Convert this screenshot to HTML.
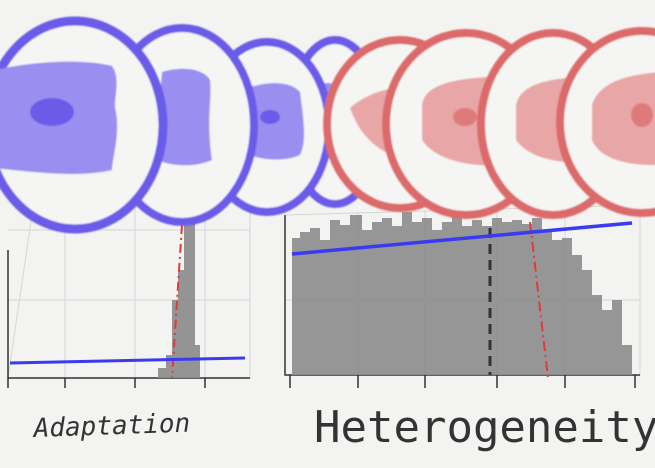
<!DOCTYPE html>
<html><head><meta charset="utf-8"><style>
html,body{margin:0;padding:0;background:#f3f3f1;}
svg{display:block}
</style></head><body>
<svg width="655" height="468" viewBox="0 0 655 468" xmlns="http://www.w3.org/2000/svg">
<defs>
<filter id="b" x="-20%" y="-20%" width="140%" height="140%"><feGaussianBlur stdDeviation="0.7"/></filter>
</defs>
<rect width="655" height="468" fill="#f3f3f1"/>
<g stroke="#d6d6d6" stroke-width="1" fill="none">
<path d="M40 160 L250 150 L250 378 L8 378 Z"/>
<path d="M65 160 V378 M135 156 V378 M205 152 V378"/>
<path d="M8 300 H250 M8 230 H250"/>
<path d="M285 215 L640 205 L640 375 M285 215 V375"/>
<path d="M358 212 V375 M425 210 V375 M497 208 V375 M565 206 V375"/>
<path d="M285 300 H640"/>
</g>
<g stroke="#333" stroke-width="1.5" fill="none">
<path d="M8 250 L8 378 L250 378"/>
<path d="M8 378 V388 M65 378 V388 M135 378 V388 M205 378 V388"/>
<path d="M285 215 V375 H640"/>
<path d="M290 375 V388 M358 375 V388 M425 375 V388 M497 375 V388 M565 375 V388 M635 375 V388"/>
</g>
<g fill="#8a8a8a" opacity="0.9">
<rect x="158" y="368" width="8" height="10"/>
<rect x="166" y="355" width="6" height="23"/>
<rect x="172" y="300" width="6" height="78"/>
<rect x="178" y="270" width="6" height="108"/>
<rect x="184" y="225" width="6" height="153"/>
<rect x="190" y="200" width="5" height="178"/>
<rect x="195" y="345" width="5" height="33"/>
</g>
<path d="M182 225 L172 378" stroke="#e23a3a" stroke-width="2" stroke-dasharray="9,4,2,4"/>
<path d="M10 363 L245 358" stroke="#3a3aee" stroke-width="3"/>
<g fill="#8c8c8c" opacity="0.9">
<path d="M292 375 V238 H300 V232 H310 V228 H320 V240 H330 V220 H340 V225 H350 V215 H362 V230 H372 V222 H382 V218 H392 V226 H402 V212 H412 V222 H422 V218 H432 V230 H442 V222 H452 V216 H462 V226 H472 V220 H482 V226 H492 V218 H502 V222 H512 V220 H522 V224 H532 V218 H542 V232 H552 V240 H562 V238 H572 V255 H582 V270 H592 V295 H602 V310 H612 V300 H622 V345 H632 V375 Z"/>
</g>
<path d="M490 228 V375" stroke="#333" stroke-width="3" stroke-dasharray="10,6"/>
<path d="M530 222 L548 378" stroke="#e23a3a" stroke-width="2" stroke-dasharray="10,4,2,4"/>
<path d="M292 254 L632 223" stroke="#3a3aee" stroke-width="3.5"/>
<g filter="url(#b)">
<!-- blue4 -->
<ellipse cx="335" cy="122" rx="45" ry="82" fill="#f5f5f4" stroke="#6b5ce8" stroke-width="8"/>
<path d="M318 85 C330 80 340 85 342 95 L342 155 C330 160 320 155 318 150Z" fill="#9a8ef0"/>
<!-- blue3 -->
<ellipse cx="267" cy="127" rx="62" ry="85" fill="#f5f5f4" stroke="#6b5ce8" stroke-width="8"/>
<path d="M248 88 C270 80 292 82 300 92 C302 110 308 140 300 155 C285 162 262 160 250 155 C244 130 250 110 248 88Z" fill="#9a8ef0"/>
<ellipse cx="270" cy="117" rx="10" ry="7" fill="#6b5ce8"/>
<!-- blue2 -->
<ellipse cx="182" cy="125" rx="72" ry="97" fill="#f5f5f4" stroke="#6b5ce8" stroke-width="8"/>
<path d="M162 72 C185 65 205 70 210 80 C212 100 206 120 212 160 C195 168 170 166 158 160 C155 130 160 100 162 72Z" fill="#9a8ef0"/>
<!-- blue1 -->
<ellipse cx="75" cy="125" rx="88" ry="104" fill="#f5f5f4" stroke="#6b5ce8" stroke-width="9"/>
<path d="M-5 70 C30 62 80 58 112 66 C122 80 112 100 116 112 C120 135 112 160 112 170 C80 178 30 172 -5 168Z" fill="#9a8ef0"/>
<ellipse cx="52" cy="112" rx="22" ry="14" fill="#6b5ce8"/>
<!-- red1 -->
<ellipse cx="400" cy="124" rx="73" ry="84" fill="#f5f5f4" stroke="#dc6b6b" stroke-width="8"/>
<path d="M350 108 C370 90 400 85 425 85 L425 162 C395 160 365 150 350 108Z" fill="#e9a6a6"/>
<!-- red2 -->
<ellipse cx="466" cy="124" rx="80" ry="91" fill="#f5f5f4" stroke="#dc6b6b" stroke-width="8"/>
<path d="M422 105 C425 85 450 78 505 76 L508 165 C470 168 435 160 422 140Z" fill="#e9a6a6"/>
<ellipse cx="465" cy="117" rx="12" ry="9" fill="#df7a7a"/>
<!-- red3 -->
<ellipse cx="553" cy="124" rx="72" ry="91" fill="#f5f5f4" stroke="#dc6b6b" stroke-width="8"/>
<path d="M516 105 C520 85 545 78 592 76 L595 162 C560 165 528 158 516 140Z" fill="#e9a6a6"/>
<!-- red4 -->
<ellipse cx="642" cy="122" rx="82" ry="91" fill="#f5f5f4" stroke="#dc6b6b" stroke-width="8"/>
<path d="M592 105 C598 85 620 75 660 72 L660 165 C630 166 600 160 592 140Z" fill="#e9a6a6"/>
<ellipse cx="642" cy="115" rx="11" ry="12" fill="#df7a7a"/>
</g>
<text x="34" y="437" font-family="DejaVu Sans Mono, Liberation Mono, monospace" font-style="italic" font-size="26" fill="#333" transform="rotate(-2 34 437)">Adaptation</text>
<text x="314" y="442" font-family="DejaVu Sans Mono, Liberation Mono, monospace" font-size="44" fill="#333">Heterogeneity</text>
</svg>
</body></html>
